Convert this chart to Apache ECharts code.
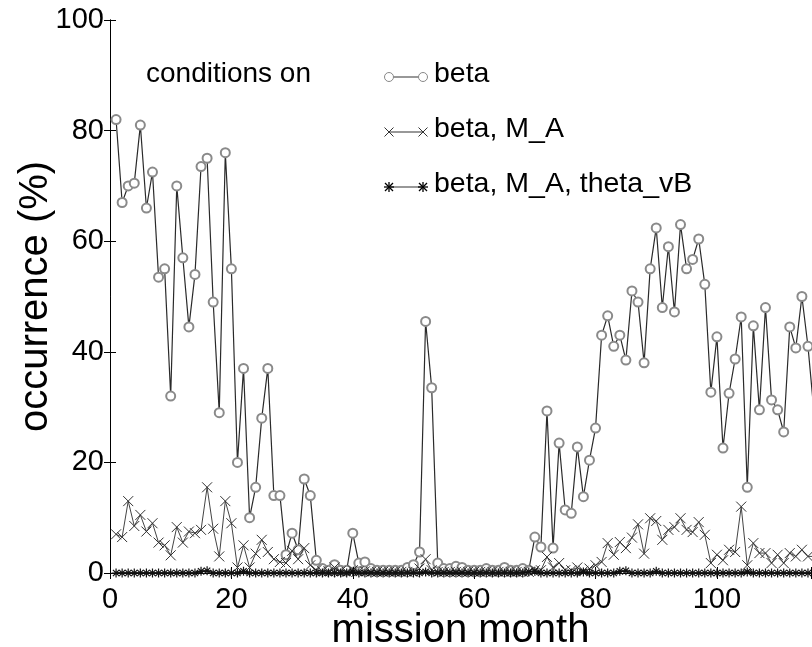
<!DOCTYPE html>
<html>
<head>
<meta charset="utf-8">
<script src="https://cdn.jsdelivr.net/npm/echarts@6/dist/echarts.min.js"></script>
<style>
html,body{margin:0;padding:0;background:#fff;}
#chart{width:812px;height:647px;}
</style>
</head>
<body>
<div id="chart"></div>
<script>
// mission months 1..116
const months = [];
for (let m = 1; m <= 116; m++) months.push(m);

const betaValues = [
  82, 67, 70, 70.5, 81, 66, 72.5, 53.5, 55, 32,
  70, 57, 44.5, 54, 73.5, 75, 49, 29, 76, 55,
  20, 37, 10, 15.5, 28, 37, 14, 14, 3.3, 7.2,
  4.2, 17, 14, 2.3, 0.8, 0.5, 1.5, 0.5, 0.5, 7.2,
  1.8, 2, 0.8, 0.5, 0.5, 0.5, 0.5, 0.5, 1, 1.5,
  3.8, 45.5, 33.5, 1.8, 0.8, 0.8, 1.2, 1, 0.5, 0.5,
  0.5, 0.8, 0.5, 0.5, 1, 0.5, 0.5, 0.8, 0.5, 6.5,
  4.7, 29.3, 4.5, 23.5, 11.4, 10.8, 22.8, 13.8, 20.4, 26.2,
  43, 46.5, 41, 43, 38.5, 51, 49, 38, 55, 62.4,
  48, 59, 47.2, 63, 55, 56.7, 60.4, 52.2, 32.7, 42.7,
  22.6, 32.5, 38.7, 46.3, 15.5, 44.7, 29.5, 48, 31.3, 29.5,
  25.5, 44.5, 40.7, 50, 41, 29
];

const betaMAValues = [
  7, 6.5, 13, 8.5, 10.5, 7.5, 9, 5.5, 5, 3.2,
  8.3, 5.5, 7.5, 7.2, 7.8, 15.5, 8, 3, 13, 9,
  1, 5, 1, 3.5, 6, 3.8, 2.5, 2, 1.8, 4,
  2.5, 4.5, 1.4, 0.5, 0.3, 0.3, 1, 0.3, 0.2, 0.5,
  0.3, 0.3, 0.2, 0.2, 0.2, 0.2, 0.2, 0.2, 0.2, 0.2,
  0.8, 2.5, 0.5, 0.2, 0.2, 0.2, 0.2, 0.2, 0.2, 0.2,
  0.2, 0.2, 0.2, 0.2, 0.2, 0.2, 0.2, 0.2, 0.2, 0.5,
  0.5, 2.9, 1, 1.8, 0.5, 0.5, 1, 0.4, 0.8, 1.4,
  2, 5.4, 3.3, 5.6, 4.5, 6.4, 8.8, 3.5, 9.9, 9.4,
  6, 7.8, 8.3, 9.9, 7.8, 7.4, 9.2, 6.9, 1.8, 3.3,
  2.3, 4.2, 3.8, 12, 1.4, 5.4, 3.6, 3.6, 1.8, 3.3,
  1.8, 3.6, 3, 4.2, 3, 3
];

const betaMAThetaValues = [
  0, 0, 0, 0, 0, 0, 0, 0, 0, 0,
  0, 0, 0, 0, 0.3, 0.4, 0, 0, 0, 0,
  0, 0.3, 0, 0, 0, 0, 0, 0, 0, 0,
  0, 0, 0, 0, 0, 0, 0, 0, 0, 0.2,
  0, 0, 0, 0, 0, 0, 0, 0, 0, 0,
  0, 0.2, 0, 0, 0, 0, 0, 0, 0, 0,
  0, 0, 0, 0, 0, 0, 0, 0, 0.2, 0.3,
  0, 0, 0, 0, 0, 0, 0, 0.2, 0, 0,
  0, 0, 0, 0.3, 0.4, 0, 0, 0, 0, 0.3,
  0, 0, 0, 0, 0, 0, 0, 0, 0, 0,
  0, 0, 0, 0, 0.2, 0, 0, 0, 0, 0,
  0, 0, 0, 0, 0, 0
];

const seriesNames = ['beta', 'beta, M_A', 'beta, M_A, theta_vB'];
const xTicks = [0, 20, 40, 60, 80, 100];
const yTicks = [0, 20, 40, 60, 80, 100];

const FONT = '"Liberation Sans", Arial, Helvetica, sans-serif';
const X_PATH = 'path://M0,0L10,10M10,0L0,10';
const STAR_PATH = 'path://M5,0L5,10M0,5L10,5M1.5,1.5L8.5,8.5M8.5,1.5L1.5,8.5';

function pairs(vals) { return months.map((m, i) => [m, vals[i]]); }

const chart = echarts.init(document.getElementById('chart'), null, {renderer: 'canvas'});

const axisLineStyle = {color: '#000', width: 1};

const legendRows = [
  {y: 77, name: seriesNames[0], kind: 'circle'},
  {y: 132, name: seriesNames[1], kind: 'x'},
  {y: 187, name: seriesNames[2], kind: 'star'}
];
const graphics = [{
  type: 'text', left: 146, top: 77 - 17,
  style: {text: 'conditions on', font: '28px ' + FONT, fill: '#000'}
}];
legendRows.forEach(r => {
  const x0 = 389, x1 = 423;
  graphics.push({type: 'line', shape: {x1: x0, y1: r.y, x2: x1, y2: r.y}, style: {stroke: '#333', lineWidth: 1.2}});
  [x0, x1].forEach(cx => {
    if (r.kind === 'circle') {
      graphics.push({type: 'circle', shape: {cx: cx, cy: r.y, r: 4.5}, style: {fill: '#fff', stroke: '#888', lineWidth: 1}});
    } else if (r.kind === 'x') {
      graphics.push({type: 'line', shape: {x1: cx - 4.5, y1: r.y - 4.5, x2: cx + 4.5, y2: r.y + 4.5}, style: {stroke: '#333', lineWidth: 1}});
      graphics.push({type: 'line', shape: {x1: cx - 4.5, y1: r.y + 4.5, x2: cx + 4.5, y2: r.y - 4.5}, style: {stroke: '#333', lineWidth: 1}});
    } else {
      graphics.push({type: 'line', shape: {x1: cx - 4, y1: r.y - 4, x2: cx + 4, y2: r.y + 4}, style: {stroke: '#000', lineWidth: 1.3}});
      graphics.push({type: 'line', shape: {x1: cx - 4, y1: r.y + 4, x2: cx + 4, y2: r.y - 4}, style: {stroke: '#000', lineWidth: 1.3}});
      graphics.push({type: 'line', shape: {x1: cx, y1: r.y - 5, x2: cx, y2: r.y + 5}, style: {stroke: '#000', lineWidth: 1.3}});
      graphics.push({type: 'line', shape: {x1: cx - 5, y1: r.y, x2: cx + 5, y2: r.y}, style: {stroke: '#000', lineWidth: 1.3}});
    }
  });
  graphics.push({type: 'text', left: 434, top: r.y - 17, style: {text: r.name, font: '28.5px ' + FONT, fill: '#000'}});
});

const option = {
  backgroundColor: '#fff',
  animation: false,
  textStyle: {fontFamily: FONT},
  grid: {left: 110, right: 1, top: 20, bottom: 74, containLabel: false, outerBoundsMode: 'none'},
  xAxis: [{
    type: 'value', min: 0, max: 115.5, interval: 20, position: 'bottom',
    axisLine: {show: true, lineStyle: axisLineStyle},
    axisTick: {show: true, inside: true, length: 6, lineStyle: axisLineStyle},
    splitLine: {show: false},
    axisLabel: {
      fontSize: 29, color: '#000', margin: 12, fontFamily: FONT,
      formatter: v => xTicks.indexOf(v) >= 0 ? String(v) : ''
    },
    name: 'mission month', nameLocation: 'middle', nameGap: 38, nameMoveOverlap: false,
    nameTextStyle: {fontSize: 40, color: '#000', fontFamily: FONT}
  }, {
    type: 'value', min: 0, max: 115.5, interval: 20, position: 'top',
    axisLine: {show: true, lineStyle: axisLineStyle},
    axisTick: {show: true, inside: true, length: 6, lineStyle: axisLineStyle},
    splitLine: {show: false}, axisLabel: {show: false}
  }],
  yAxis: [{
    type: 'value', min: 0, max: 100, interval: 20, position: 'left',
    axisLine: {show: true, lineStyle: axisLineStyle},
    axisTick: {show: true, inside: true, length: 6, lineStyle: axisLineStyle},
    splitLine: {show: false},
    axisLabel: {
      fontSize: 29, color: '#000', margin: 6, fontFamily: FONT,
      formatter: v => yTicks.indexOf(v) >= 0 ? String(v) : ''
    },
    name: 'occurrence (%)', nameLocation: 'middle', nameGap: 54, nameRotate: 90, nameMoveOverlap: false,
    nameTextStyle: {fontSize: 40, color: '#000', fontFamily: FONT}
  }, {
    type: 'value', min: 0, max: 100, interval: 20, position: 'right',
    axisLine: {show: true, lineStyle: axisLineStyle},
    axisTick: {show: true, inside: true, length: 6, lineStyle: axisLineStyle},
    splitLine: {show: false}, axisLabel: {show: false}
  }],
  series: [{
    name: seriesNames[0], type: 'line', data: pairs(betaValues),
    xAxisIndex: 0, yAxisIndex: 0, clip: true,
    symbol: 'emptyCircle', symbolSize: 9, showAllSymbol: true,
    lineStyle: {color: '#2a2a2a', width: 1.2},
    itemStyle: {color: '#8a8a8a', borderColor: '#8a8a8a', borderWidth: 1},
    z: 3
  }, {
    name: seriesNames[1], type: 'line', data: pairs(betaMAValues),
    xAxisIndex: 0, yAxisIndex: 0, clip: true,
    symbol: X_PATH, symbolSize: 10, showAllSymbol: true,
    lineStyle: {color: '#444', width: 1},
    itemStyle: {color: 'rgba(0,0,0,0)', borderColor: '#333', borderWidth: 1},
    z: 4
  }, {
    name: seriesNames[2], type: 'line', data: pairs(betaMAThetaValues),
    xAxisIndex: 0, yAxisIndex: 0, clip: true,
    symbol: STAR_PATH, symbolSize: 9, showAllSymbol: true,
    lineStyle: {color: '#000', width: 1.3},
    itemStyle: {color: 'rgba(0,0,0,0)', borderColor: '#111', borderWidth: 1.2},
    z: 5
  }],
  graphic: graphics
};

chart.setOption(option);
</script>
</body>
</html>
